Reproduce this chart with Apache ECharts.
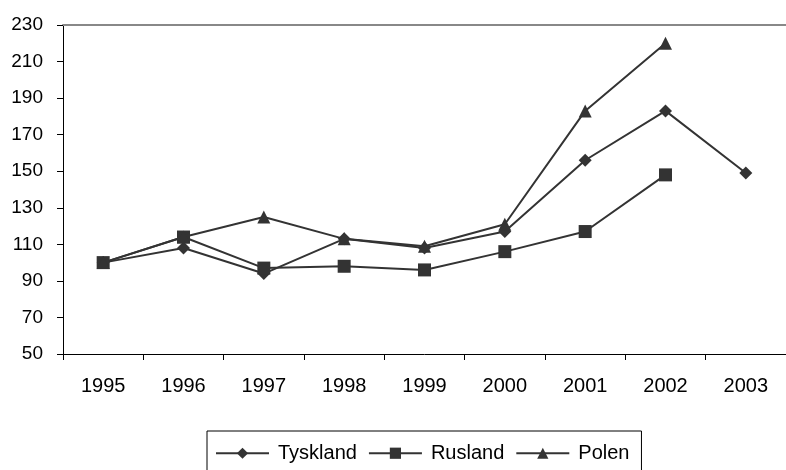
<!DOCTYPE html>
<style>
body {margin: 0;}
#div_echart {height: 470px; width: 786px;}
</style>
<script src='https://cdn.jsdelivr.net/npm/echarts@6/dist/echarts.min.js'></script>
<div id='div_echart'></div>
<script>
let years = ['1995', '1996', '1997', '1998', '1999', '2000', '2001', '2002', '2003']
let tyskland = [100, 108, 94, 113, 108, 117, 156, 183, 149]
let rusland = [100, 114, 97, 98, 96, 106, 117, 148, null]
let polen = [100, 114, 125, 113, 109, 121, 183, 220, null]

let font = 'Liberation Sans, Arial, sans-serif'
let ink = '#333333'

function line(name, data, symbol, size) {
	return {
		name, type: 'line', data, symbol, symbolSize: size,
		itemStyle: {color: ink},
		lineStyle: {color: ink, width: 2},
		emphasis: {disabled: true}
	}
}

let echart = echarts.init(document.getElementById('div_echart'))
echart.setOption({
	animation: false,
	textStyle: {fontFamily: font},
	grid: {left: 63, right: 0, top: 25, bottom: 116},
	xAxis: [{
		type: 'category', data: years, boundaryGap: true,
		axisLine: {lineStyle: {color: '#000', width: 1}},
		axisTick: {show: true, length: 6, lineStyle: {color: '#000'}},
		axisLabel: {color: '#000', fontSize: 20, margin: 15, fontFamily: font}
	}, {
		type: 'category', data: years, position: 'top',
		axisLine: {lineStyle: {color: '#888', width: 2}},
		axisTick: {show: false}, axisLabel: {show: false}
	}],
	yAxis: {
		type: 'value', min: 50, max: 230, interval: 20,
		axisLine: {show: true, lineStyle: {color: '#000', width: 1}},
		axisTick: {show: true, length: 6, lineStyle: {color: '#000'}},
		splitLine: {show: false},
		axisLabel: {color: '#000', fontSize: 19, margin: 20, fontFamily: font}
	},
	legend: {
		left: 207, top: 431,
		borderColor: '#000', borderWidth: 1,
		padding: [5, 12, 24, 8],
		itemWidth: 53, itemHeight: 14, itemGap: 11,
		textStyle: {color: '#000', fontSize: 20, fontFamily: font, padding: [0, 0, 0, 4]},
		data: ['Tyskland', 'Rusland', 'Polen']
	},
	series: [
		line('Tyskland', tyskland, 'diamond', 13),
		line('Rusland', rusland, 'rect', 13),
		line('Polen', polen, 'triangle', 13)
	]
})
</script>
